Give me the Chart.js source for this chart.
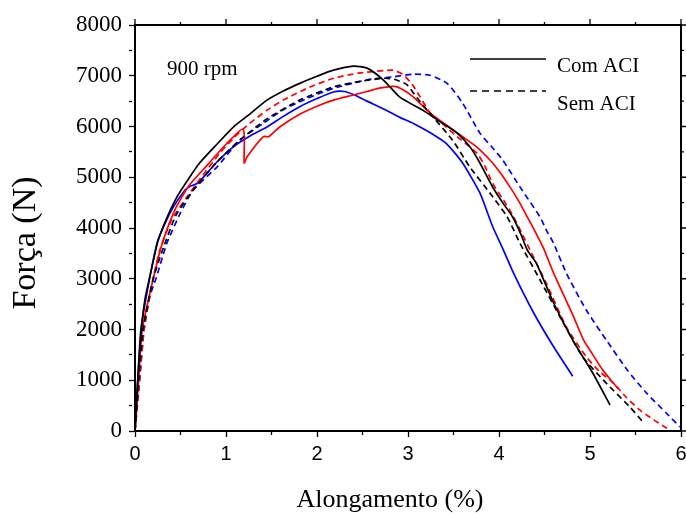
<!DOCTYPE html>
<html>
<head>
<meta charset="utf-8">
<script src="https://cdn.jsdelivr.net/npm/chart.js@4"></script>
<style>
  body { margin: 0; background: #fff; }
  #grafico { display: block; }
</style>
</head>
<body>
<canvas id="grafico" width="686" height="515"></canvas>
<script>
// curvas forca x alongamento, 900 rpm
// preto
const pretoComX = [0, 0.03, 0.07, 0.11, 0.17, 0.25, 0.35, 0.46, 0.6, 0.71, 0.9, 1.08, 1.25, 1.45, 1.63, 1.81, 2.0, 2.18, 2.4, 2.55, 2.73, 2.91, 3.16, 3.35, 3.54, 3.68, 3.79, 3.93, 4.04, 4.15, 4.24, 4.31, 4.41, 4.6, 4.81, 5.03, 5.22];
const pretoComY = [0, 1000, 2000, 2600, 3100, 3730, 4200, 4610, 5000, 5280, 5650, 5990, 6230, 6520, 6700, 6850, 6990, 7110, 7190, 7150, 6915, 6580, 6325, 6100, 5872, 5600, 5281, 4808, 4500, 4217, 3880, 3567, 3310, 2522, 1793, 1143, 512];
const pretoSemX = [0, 0.04, 0.09, 0.2, 0.3, 0.45, 0.64, 0.9, 1.15, 1.45, 1.81, 2.18, 2.44, 2.73, 2.85, 2.99, 3.1, 3.24, 3.49, 3.68, 3.9, 4.09, 4.23, 4.45, 4.67, 4.92, 5.18, 5.44, 5.58];
const pretoSemY = [0, 1000, 2000, 3000, 3550, 4250, 4750, 5300, 5730, 6150, 6520, 6780, 6880, 6950, 6930, 6820, 6560, 6260, 5730, 5200, 4690, 4220, 3700, 2980, 2250, 1460, 940, 470, 180];
// vermelho
const vermelhoComX = [0, 0.04, 0.08, 0.2, 0.3, 0.45, 0.6, 0.8, 1.0, 1.19, 1.2, 1.23, 1.41, 1.47, 1.59, 1.81, 2.0, 2.18, 2.4, 2.55, 2.7, 2.85, 2.95, 3.06, 3.24, 3.42, 3.6, 3.76, 3.9, 4.01, 4.12, 4.22, 4.31, 4.4, 4.49, 4.6, 4.71, 4.82, 4.93, 5.04, 5.14, 5.23, 5.31];
const vermelhoComY = [0, 1000, 2000, 3000, 3700, 4400, 4850, 5250, 5650, 5950, 5280, 5400, 5800, 5800, 5990, 6240, 6400, 6520, 6620, 6690, 6760, 6790, 6720, 6580, 6270, 6030, 5800, 5590, 5340, 5100, 4810, 4520, 4220, 3920, 3600, 3110, 2680, 2250, 1790, 1480, 1200, 1000, 830];
const vermelhoSemX = [0, 0.05, 0.1, 0.2, 0.27, 0.4, 0.57, 0.75, 0.93, 1.1, 1.26, 1.45, 1.63, 1.9, 2.18, 2.45, 2.73, 2.84, 2.95, 3.05, 3.12, 3.24, 3.4, 3.54, 3.76, 3.85, 3.93, 4.05, 4.16, 4.25, 4.34, 4.52, 4.74, 4.96, 5.1, 5.26, 5.4, 5.55, 5.7, 5.84, 5.88];
const vermelhoSemY = [0, 1000, 2000, 3000, 3550, 4150, 4610, 5050, 5470, 5800, 6060, 6320, 6520, 6760, 6950, 7050, 7100, 7110, 7020, 6820, 6620, 6280, 6020, 5800, 5470, 5200, 4880, 4550, 4220, 3900, 3570, 2910, 2050, 1460, 1180, 940, 660, 410, 220, 60, 0];
// azul
const azulComX = [0, 0.03, 0.065, 0.16, 0.25, 0.4, 0.55, 0.6, 0.65, 0.7, 0.9, 1.08, 1.25, 1.45, 1.63, 1.81, 2.0, 2.18, 2.3, 2.4, 2.55, 2.75, 2.91, 3.06, 3.25, 3.43, 3.6, 3.79, 3.93, 4.04, 4.16, 4.38, 4.6, 4.81];
const azulComY = [0, 1000, 2000, 3000, 3750, 4350, 4750, 4820, 4850, 4900, 5300, 5600, 5800, 5990, 6200, 6390, 6550, 6680, 6690, 6630, 6500, 6330, 6180, 6060, 5870, 5650, 5280, 4690, 4030, 3600, 3110, 2330, 1660, 1080];
const azulSemX = [0, 0.05, 0.1, 0.16, 0.23, 0.35, 0.5, 0.64, 0.9, 1.15, 1.4, 1.63, 1.9, 2.18, 2.55, 2.84, 3.06, 3.24, 3.43, 3.6, 3.79, 3.92, 4.04, 4.23, 4.45, 4.52, 4.6, 4.74, 4.96, 5.18, 5.41, 5.62, 5.84, 5.99];
const azulSemY = [0, 1000, 2000, 2640, 3000, 3700, 4300, 4750, 5200, 5730, 6050, 6330, 6560, 6750, 6920, 6980, 7030, 7010, 6850, 6460, 5870, 5600, 5340, 4810, 4220, 3960, 3700, 3110, 2380, 1790, 1200, 750, 350, 80];

const legendas = ['Com ACI', 'Sem ACI'];
const xTicks = [0, 1, 2, 3, 4, 5, 6];
const yTicks = [0, 1000, 2000, 3000, 4000, 5000, 6000, 7000, 8000];

const serif = "'Times New Roman', 'Liberation Serif', serif";
const sans = "Arial, 'Liberation Sans', sans-serif";

function pontos(xs, ys) {
  return xs.map(function (x, i) { return { x: x, y: ys[i] }; });
}

function serie(nome, xs, ys, cor, tracejado) {
  return {
    label: nome,
    data: pontos(xs, ys),
    showLine: true,
    borderColor: cor,
    backgroundColor: cor,
    borderWidth: 1.7,
    borderDash: tracejado ? [6, 4] : [],
    pointRadius: 0,
    tension: 0.2,
    fill: false
  };
}

// moldura de cima e da direita, com as marcas
const moldura = {
  id: 'moldura',
  afterDraw: function (chart) {
    const c = chart.ctx;
    const a = chart.chartArea;
    const sx = chart.scales.x, sy = chart.scales.y;
    c.save();
    c.setLineDash([]);
    c.strokeStyle = '#000000';
    c.lineWidth = 2;
    c.beginPath();
    c.moveTo(a.left, a.top);
    c.lineTo(a.right, a.top);
    c.lineTo(a.right, a.bottom);
    c.stroke();
    c.lineWidth = 1.3;
    c.beginPath();
    for (let v = 0; v <= 6; v += 0.5) {
      const px = sx.getPixelForValue(v);
      const len = v % 1 === 0 ? 6 : 3;
      c.moveTo(px, a.top); c.lineTo(px, a.top - len);
    }
    for (let v = 0; v <= 8000; v += 500) {
      const py = sy.getPixelForValue(v);
      const len = v % 1000 === 0 ? 6 : 3;
      c.moveTo(a.right, py); c.lineTo(a.right + len, py);
    }
    c.stroke();
    c.restore();
  }
};

// textos extras: titulos dos eixos, legenda e "900 rpm"
const textos = {
  id: 'textos',
  afterDraw: function (chart) {
    const c = chart.ctx;
    c.save();
    c.fillStyle = '#000';
    c.textBaseline = 'alphabetic';

    c.font = '21px ' + serif;
    c.textAlign = 'left';
    c.fillText('900 rpm', 167, 75);

    // legenda
    c.strokeStyle = '#000';
    c.lineWidth = 1.7;
    c.beginPath();
    c.moveTo(470, 59); c.lineTo(546, 59);
    c.stroke();
    c.setLineDash([7, 5]);
    c.beginPath();
    c.moveTo(470, 91); c.lineTo(546, 91);
    c.stroke();
    c.setLineDash([]);
    c.fillText(legendas[0], 557, 72);
    c.fillText(legendas[1], 557, 110);

    // eixo x
    c.font = '26px ' + serif;
    c.textAlign = 'center';
    c.fillText('Alongamento (%)', 390, 507);

    // eixo y
    c.translate(35, 243);
    c.rotate(-Math.PI / 2);
    c.font = '34px ' + serif;
    c.fillText('Força (N)', 0, 0);
    c.restore();
  }
};

function marcaMenor(ctx) {
  const v = ctx.tick ? ctx.tick.value : 0;
  const passo = ctx.scale.axis === 'x' ? 1 : 1000;
  return (v % passo === 0) ? [] : [3, 30];
}

function eixo(pos, min, max, passo, fonte, tamanho) {
  return {
    type: 'linear',
    position: pos,
    min: min,
    max: max,
    border: { display: true, color: '#000', width: 2 },
    grid: {
      drawOnChartArea: false,
      drawTicks: true,
      tickLength: 6,
      tickColor: '#000',
      tickWidth: 1.3,
      tickBorderDash: marcaMenor
    },
    ticks: {
      stepSize: passo,
      autoSkip: false,
      maxRotation: 0,
      color: '#000',
      padding: pos === 'left' ? 7 : 5,
      font: { family: fonte, size: tamanho },
      callback: function (v) {
        const lista = this.axis === 'x' ? xTicks : yTicks;
        return lista.indexOf(v) >= 0 ? String(v) : '';
      }
    }
  };
}

const escalas = {
  x: eixo('bottom', 0, 6, 0.5, sans, 20),
  y: eixo('left', 0, 8000, 500, serif, 23)
};
escalas.x.afterFit = function (s) {
  s.height = 84;
  s.paddingLeft = 0;
  s.paddingRight = 0;
};
escalas.y.afterFit = function (s) {
  s.width = 135;
  s.paddingTop = 0;
  s.paddingBottom = 0;
};

const grafico = new Chart(document.getElementById('grafico'), {
  type: 'scatter',
  data: {
    datasets: [
      serie('Preto com ACI', pretoComX, pretoComY, '#000000', false),
      serie('Preto sem ACI', pretoSemX, pretoSemY, '#000000', true),
      serie('Vermelho com ACI', vermelhoComX, vermelhoComY, '#ff0000', false),
      serie('Vermelho sem ACI', vermelhoSemX, vermelhoSemY, '#ff0000', true),
      serie('Azul com ACI', azulComX, azulComY, '#0000ff', false),
      serie('Azul sem ACI', azulSemX, azulSemY, '#0000ff', true)
    ]
  },
  options: {
    responsive: false,
    animation: false,
    layout: { padding: { top: 25, right: 5, left: 0, bottom: 0 } },
    scales: escalas,
    plugins: {
      legend: { display: false },
      tooltip: { enabled: false }
    }
  },
  plugins: [moldura, textos]
});
</script>
</body>
</html>
